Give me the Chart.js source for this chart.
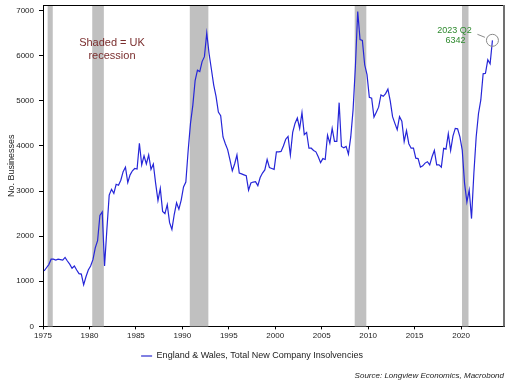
<!DOCTYPE html>
<html>
<head>
<script src="https://cdn.jsdelivr.net/npm/chart.js"></script>
<style>
  html, body { margin: 0; padding: 0; background: #fff; }
</style>
</head>
<body>
<canvas id="insolvChart" width="515" height="387"></canvas>
<script>
// quarterly, 1975 Q1 .. 2023 Q2
const startYear = 1975;
const insolvencies = [
  1230, 1300, 1370, 1490,   // 1975
  1490, 1470, 1490, 1480,   // 1976
  1470, 1530, 1450, 1380,   // 1977
  1290, 1340, 1250, 1170,   // 1978
  1160, 920, 1100, 1250,    // 1979
  1340, 1480, 1740, 1900,   // 1980
  2460, 2540, 1340, 2150,   // 1981
  2910, 3040, 2950, 3150,   // 1982
  3130, 3240, 3430, 3530,   // 1983
  3190, 3360, 3450, 3500,   // 1984
  3490, 4060, 3580, 3780,   // 1985
  3600, 3800, 3480, 3600,   // 1986
  3170, 2790, 3060, 2550,   // 1987
  2500, 2700, 2300, 2150,   // 1988
  2480, 2740, 2600, 2800,   // 1989
  3090, 3200, 3900, 4500,   // 1990
  4900, 5450, 5680, 5650,   // 1991
  5870, 5980, 6500, 6050,   // 1992
  5700, 5350, 5100, 4750,   // 1993
  4670, 4200, 4050, 3920,   // 1994
  3690, 3450, 3600, 3800,   // 1995
  3400, 3380, 3360, 3340,   // 1996
  3020, 3180, 3200, 3210,   // 1997
  3120, 3300, 3400, 3470,   // 1998
  3700, 3520, 3500, 3480,   // 1999
  3870, 3870, 3880, 4000,   // 2000
  4150, 4210, 3800, 4300,   // 2001
  4500, 4620, 4390, 4740,   // 2002
  4250, 4300, 3950, 3950,   // 2003
  3900, 3870, 3760, 3630,   // 2004
  3720, 3700, 4240, 4060,   // 2005
  4390, 4100, 4100, 4960,   // 2006
  3990, 3960, 3990, 3820,   // 2007
  4200, 4800, 5760, 6980,   // 2008
  6360, 6340, 5800, 5580,   // 2009
  5080, 5060, 4640, 4750,   // 2010
  4860, 5130, 5100, 5160,   // 2011
  5260, 5000, 4650, 4500,   // 2012
  4360, 4650, 4550, 4100,   // 2013
  4340, 4050, 3950, 3950,   // 2014
  3730, 3720, 3530, 3560,   // 2015
  3620, 3650, 3580, 3760,   // 2016
  3900, 3580, 3580, 3530,   // 2017
  3950, 3930, 4270, 3900,   // 2018
  4220, 4390, 4380, 4200,   // 2019
  3910, 3170, 2760, 3020,   // 2020
  2390, 3390, 4200, 4720,   // 2021
  5020, 5600, 5610, 5910,   // 2022
  5820, 6342                // 2023
];
const xTicks = [1975, 1980, 1985, 1990, 1995, 2000, 2005, 2010, 2015, 2020];
const yTicks = [0, 1000, 2000, 3000, 4000, 5000, 6000, 7000];
// shaded UK recessions, in decimal years
const recessions = [[1975.5, 1976.05], [1980.3, 1981.55], [1990.8, 1992.8], [2008.55, 2009.8], [2020.1, 2020.8]];
const lastLabel = ['2023 Q2', '6342'];
const seriesName = 'England & Wales, Total New Company Insolvencies';
const sourceText = 'Source: Longview Economics, Macrobond';

const FONT = "'Liberation Sans', Arial, sans-serif";
const points = insolvencies.map((v, i) => ({
  x: startYear + Math.floor(i / 4) + ((i % 4) + 0.5) / 4,
  y: v
}));

const extras = {
  id: 'extras',
  beforeDatasetsDraw(chart) {
    const { ctx, chartArea: a, scales: { x } } = chart;
    ctx.save();
    ctx.fillStyle = '#c0c0c0';
    recessions.forEach(([s, e]) => {
      const x0 = x.getPixelForValue(s), x1 = x.getPixelForValue(e);
      ctx.fillRect(x0, a.top, x1 - x0, a.bottom - a.top);
    });
    ctx.restore();
  },
  afterDatasetsDraw(chart) {
    const { ctx, chartArea: a, scales: { x, y } } = chart;
    ctx.save();
    // frame: black top, grey right
    ctx.strokeStyle = '#000';
    ctx.lineWidth = 1;
    ctx.beginPath();
    ctx.moveTo(a.left, a.top + 0.5);
    ctx.lineTo(a.right, a.top + 0.5);
    ctx.stroke();
    ctx.strokeStyle = '#707070';
    ctx.lineWidth = 2;
    ctx.beginPath();
    ctx.moveTo(a.right, a.top);
    ctx.lineTo(a.right, a.bottom);
    ctx.stroke();

    // recession note
    ctx.fillStyle = '#7a2e2e';
    ctx.font = '11px ' + FONT;
    ctx.textAlign = 'center';
    ctx.textBaseline = 'middle';
    ctx.fillText('Shaded = UK', 112, 43);
    ctx.fillText('recession', 112, 56);

    // last value marker
    const last = points[points.length - 1];
    const cx = x.getPixelForValue(last.x), cy = y.getPixelForValue(last.y);
    ctx.strokeStyle = '#8a8a8a';
    ctx.lineWidth = 1;
    ctx.beginPath();
    ctx.arc(cx, cy, 6, 0, Math.PI * 2);
    ctx.stroke();
    ctx.beginPath();
    ctx.moveTo(cx - 15, cy - 6);
    ctx.lineTo(cx - 7.5, cy - 3);
    ctx.stroke();
    ctx.fillStyle = '#2f8a2f';
    ctx.font = '9px ' + FONT;
    ctx.fillText(lastLabel[0], cx - 38, cy - 9.5);
    ctx.fillText(lastLabel[1], cx - 37, cy + 0.5);
    ctx.restore();
  }
};

const chart = new Chart(document.getElementById('insolvChart').getContext('2d'), {
  type: 'line',
  data: {
    datasets: [{
      label: seriesName,
      data: points,
      borderColor: '#2626d8',
      backgroundColor: '#7b7be6',
      borderWidth: 1.2,
      pointRadius: 0,
      tension: 0
    }]
  },
  options: {
    responsive: false,
    animation: false,
    devicePixelRatio: 1,
    layout: { padding: { left: 0, right: 11, top: 5, bottom: 6 } },
    scales: {
      x: {
        type: 'linear',
        min: 1975,
        max: 2024.62,
        afterBuildTicks: s => { s.ticks = xTicks.map(v => ({ value: v })); },
        afterFit: s => { s.height = 21; s.paddingLeft = 0; s.paddingRight = 0; },
        grid: { display: true, drawOnChartArea: false, color: '#000', tickLength: 3 },
        border: { color: '#000', width: 1 },
        ticks: {
          color: '#222',
          font: { family: FONT, size: 8 },
          padding: 2,
          maxRotation: 0,
          autoSkip: false,
          callback: v => String(v)
        }
      },
      y: {
        min: 0,
        max: 7125,
        afterBuildTicks: s => { s.ticks = yTicks.map(v => ({ value: v })); },
        afterFit: s => { s.width = 43; s.paddingTop = 0; s.paddingBottom = 0; },
        grid: { display: true, drawOnChartArea: false, color: '#000', tickLength: 4 },
        border: { color: '#000', width: 1 },
        title: {
          display: true,
          text: 'No. Businesses',
          color: '#222',
          font: { family: FONT, size: 9 },
          padding: { top: 6, bottom: 0 }
        },
        ticks: {
          color: '#222',
          font: { family: FONT, size: 8 },
          padding: 5,
          callback: v => String(v)
        }
      }
    },
    plugins: {
      legend: {
        position: 'bottom',
        labels: {
          color: '#222',
          font: { family: FONT, size: 9 },
          boxWidth: 11,
          boxHeight: 2,
          padding: 4,
          generateLabels: c => c.data.datasets.map((ds, i) => ({
            text: ds.label,
            fillStyle: '#8080e2',
            strokeStyle: '#8080e2',
            lineWidth: 0,
            fontColor: '#222',
            datasetIndex: i
          }))
        }
      },
      subtitle: {
        display: true,
        text: sourceText,
        position: 'bottom',
        align: 'end',
        color: '#222',
        font: { family: FONT, size: 8, style: 'italic' },
        padding: { top: 1, bottom: 0 }
      },
      tooltip: { enabled: false }
    }
  },
  plugins: [extras]
});
</script>
</body>
</html>
